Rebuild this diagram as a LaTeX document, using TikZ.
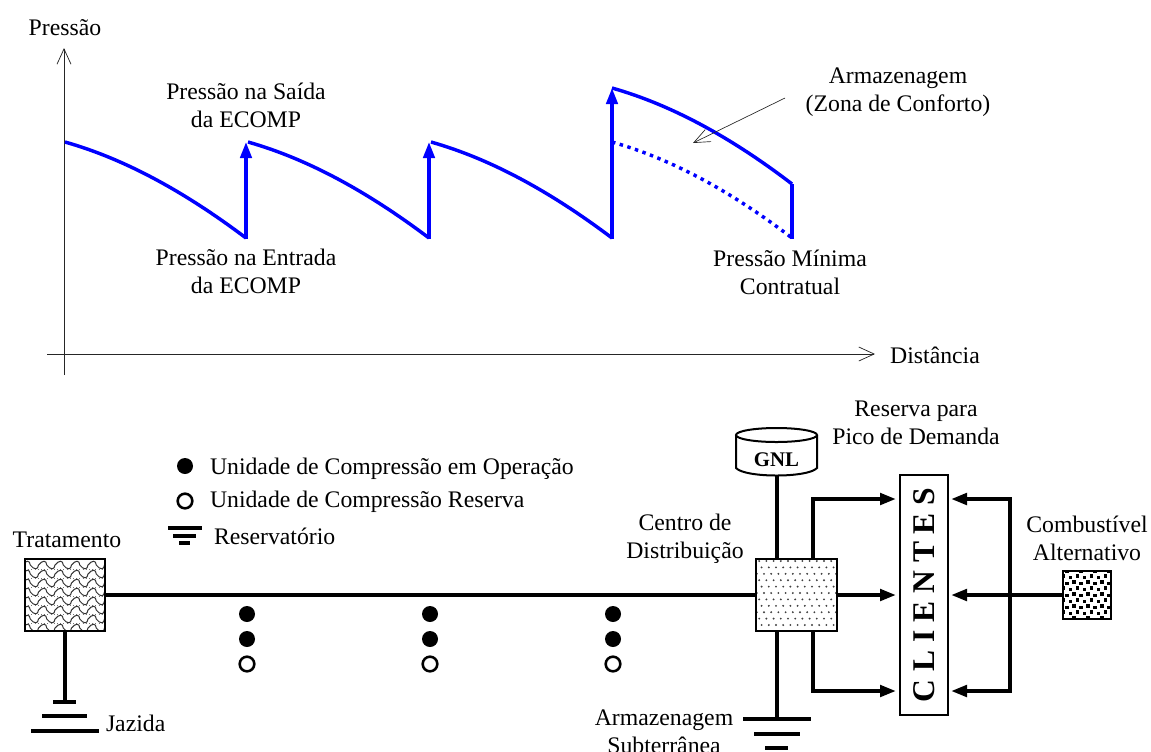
\documentclass[tikz,border=0pt]{standalone}
\usepackage{fontspec}
\setmainfont{Liberation Serif}
\usetikzlibrary{arrows.meta,calc}
\definecolor{curveblue}{RGB}{0,0,255}
\tikzset{
  lbl/.style={inner sep=0pt,outer sep=0pt,align=center,font=\fontsize{17.8}{21}\selectfont},
  lbll/.style={lbl,anchor=west},
  axis/.style={line width=0.55pt,draw=black!85,-{Straight Barb[length=11.5pt,width=10.5pt,line width=0.55pt]}},
  thincall/.style={line width=0.5pt,draw=black!85,-{Straight Barb[length=12pt,width=10pt,line width=0.5pt]}},
  pcurve/.style={line width=2.6pt,draw=curveblue},
  parrow/.style={line width=2.6pt,draw=curveblue,-{Triangle[length=12pt,width=8.5pt]}},
  pdots/.style={line width=2.6pt,draw=curveblue,dash pattern=on 2.6pt off 3.4pt},
  pipe/.style={line width=2.9pt,draw=black},
  pipearrow/.style={pipe,-{Triangle[length=12pt,width=8.5pt]}},
  bar/.style={line width=2.9pt,draw=black},
  minibar/.style={line width=2.3pt,draw=black},
  boxn/.style={draw=black,line width=1.5pt,inner sep=0pt,outer sep=0pt},
  solid dot/.style={circle,fill=black,inner sep=0pt,outer sep=0pt,minimum size=12pt},
  open dot/.style={circle,draw=black,line width=1.9pt,fill=white,inner sep=0pt,outer sep=0pt,minimum size=11pt},
}
\begin{document}
\begin{tikzpicture}[x=0.75pt,y=-0.75pt]
\useasboundingbox (0,0) rectangle (1151,751);
% --- pressure chart ---
\coordinate (oy0) at (64,375);
\coordinate (oy1) at (64,48);
\coordinate (ox0) at (47,354);
\coordinate (ox1) at (875,354);
\draw[axis] (oy0) -- (oy1);
\draw[axis] (ox0) -- (ox1);
\coordinate (a0) at (65,142);
\coordinate (b1) at (246,238);
\coordinate (a1) at (248,142);
\coordinate (b2) at (429,238);
\coordinate (a2) at (431,142);
\coordinate (b3) at (612,238);
\coordinate (a3) at (612,88);
\coordinate (b4) at (792,184);
\coordinate (c3) at (612,142);
\coordinate (c4) at (792,238);
\draw[pcurve] (a0) .. controls ($(a0)+(60,17)$) and ($(a0)+(120,50)$) .. (b1);
\draw[pcurve] (a1) .. controls ($(a1)+(60,17)$) and ($(a1)+(120,50)$) .. (b2);
\draw[pcurve] (a2) .. controls ($(a2)+(60,17)$) and ($(a2)+(120,50)$) .. (b3);
\draw[pcurve] (a3) .. controls ($(a3)+(60,17)$) and ($(a3)+(120,50)$) .. (b4);
\draw[pdots] (c3) .. controls ($(c3)+(60,17)$) and ($(c3)+(120,50)$) .. (c4);
\draw[parrow] ($(b1)+(0,1)$) -- ($(a1)+(-2,0)$);
\draw[parrow] ($(b2)+(0,1)$) -- ($(a2)+(-2,0)$);
\draw[parrow] ($(b3)+(0,1)$) -- (a3);
\draw[pcurve] (b4) -- ($(c4)+(0,1)$);
\coordinate (call0) at (785,98);
\coordinate (call1) at (693,143);
\draw[thincall] (call0) -- (call1);
\node[lbl] (tp) at (65,28) {Pressão};
\node[lbl] (td) at (935,355) {Distância};
\node[lbl] (ts) at (246,105) {Pressão na Saída\\da ECOMP};
\node[lbl] (te) at (246,271) {Pressão na Entrada\\da ECOMP};
\node[lbl] (taz) at (898,92) {Armazenagem\\(Zona de Conforto)};
\node[lbl] (tm) at (790,272) {Pressão Mínima\\Contratual};
% --- legend ---
\node[solid dot] (l1) at (185,466) {};
\node[open dot] (l2) at (185,501) {};
\node[lbll] (lt1) at (210,469) {Unidade de Compressão em Operação};
\node[lbll] (lt2) at (210,502) {Unidade de Compressão Reserva};
\draw[minibar] (168,528) -- (202,528);
\draw[minibar] (173,536) -- (196,536);
\draw[minibar] (179,543) -- (190,543);
\node[lbll] (lt3) at (214,536) {Reservatório};
% --- textures ---
\begin{scope}
  \clip (25,559) rectangle (105,631);
  \fill[white] (25,559) rectangle (105,631);
  \foreach \r in {0,...,7}{
    \foreach \c in {0,...,5}{
      \draw[line width=0.75pt,black!80] ({22+\c*16.5},{565+\r*9}) .. controls ({26+\c*16.5},{560+\r*9}) and ({30+\c*16.5},{560+\r*9}) .. ({30.25+\c*16.5},{565+\r*9}) .. controls ({34+\c*16.5},{570+\r*9}) and ({38+\c*16.5},{570+\r*9}) .. ({38.5+\c*16.5},{565+\r*9});
    }
    \draw[line width=0.7pt,black!55,dash pattern=on 0.8pt off 1.6pt] (25,{569.5+\r*9}) -- (105,{569.5+\r*9});
  }
\end{scope}
\begin{scope}
  \clip (756,559) rectangle (837,631);
  \fill[white] (756,559) rectangle (837,631);
  \foreach \r in {0,...,11}{
    \foreach \c in {0,...,13}{
      \fill[black!75] ({752+\c*7.2+mod(\r,3)*2.4},{561+\r*6.4}) circle (1.05);
    }
  }
\end{scope}
\begin{scope}
  \clip (1063,571) rectangle (1111,619);
  \fill[white] (1063,571) rectangle (1111,619);
  \foreach \r in {0,...,8}{
    \foreach \c in {0,...,8}{
      \fill[black] ({1060+\c*7+mod(\r,2)*3.5-1.6},{570+\r*6-1.6+mod(\c,2)*1.5}) rectangle ++(3.2,3.2);
    }
  }
\end{scope}
% --- nodes ---
\node[boxn,minimum width=60pt,minimum height=54pt] (trat) at (65,595) {};
\node[boxn,minimum width=60.75pt,minimum height=54pt] (centro) at (796.5,595) {};
\node[boxn,minimum width=36pt,minimum height=36pt,line width=1.8pt] (alt) at (1087,595) {};
\node[boxn,rotate=90,minimum width=180pt,minimum height=36pt,font=\fontsize{23.7}{26}\selectfont\bfseries] (cli) at (924,595) {C L I E N T E S};
% GNL tank
\draw[line width=1.5pt,fill=white] (736,435) -- (736,468) .. controls (745,478) and (808,478) .. (817,468) -- (817,435);
\draw[line width=1.5pt] (776.5,435) ellipse (40.5 and 7);
\node[inner sep=0pt,font=\fontsize{15.6}{18}\selectfont\bfseries] (gnl) at (776.5,460) {GNL};
% ground symbols
\draw[bar] (53,702) -- (76,702);
\draw[bar] (42,716) -- (87,716);
\draw[bar] (31,731) -- (99,731);
\draw[bar] (743,719) -- (811,719);
\draw[bar] (754,734) -- (800,734);
\draw[bar] (765,748) -- (788,748);
% connectors
\coordinate (jz) at (65,702);
\coordinate (gb) at (777,475);
\coordinate (ct) at (777,559);
\coordinate (cb) at (777,631);
\coordinate (az) at (777,719);
\coordinate (rt) at (813,559);
\coordinate (rb) at (813,631);
\coordinate (tip1) at (896,499);
\coordinate (tip2) at (896,595);
\coordinate (tip3) at (896,691);
\coordinate (ltip1) at (951,499);
\coordinate (ltip2) at (951,595);
\coordinate (ltip3) at (951,691);
\coordinate (bus) at (1010,595);
\draw[pipe] (trat.east) -- (centro.west);
\draw[pipe] (trat.south) -- (jz);
\draw[pipe] (gb) -- (ct);
\draw[pipe] (cb) -- (az);
\draw[pipearrow] (rt) |- (tip1);
\draw[pipearrow] (centro.east) -- (tip2);
\draw[pipearrow] (rb) |- (tip3);
\draw[pipearrow] (alt.west) -- (ltip2);
\draw[pipearrow] (bus) |- (ltip1);
\draw[pipearrow] (bus) |- (ltip3);
% compressor dots
\foreach \n/\x in {a/247,b/430,c/613}{
  \node[solid dot] (\n1) at (\x,614) {};
  \node[solid dot] (\n2) at (\x,639) {};
  \node[open dot] (\n3) at (\x,664) {};
}
% labels
\node[lbl] (tt) at (67,540) {Tratamento};
\node[lbll] (tj) at (106,723) {Jazida};
\node[lbl] (tc) at (685,539) {Centro de\\Distribuição};
\node[lbl] (tas) at (664,732) {Armazenagem\\Subterrânea};
\node[lbl] (trp) at (916,423) {Reserva para\\Pico de Demanda};
\node[lbl] (tca) at (1087,538) {Combustível\\Alternativo};
\end{tikzpicture}
\end{document}
